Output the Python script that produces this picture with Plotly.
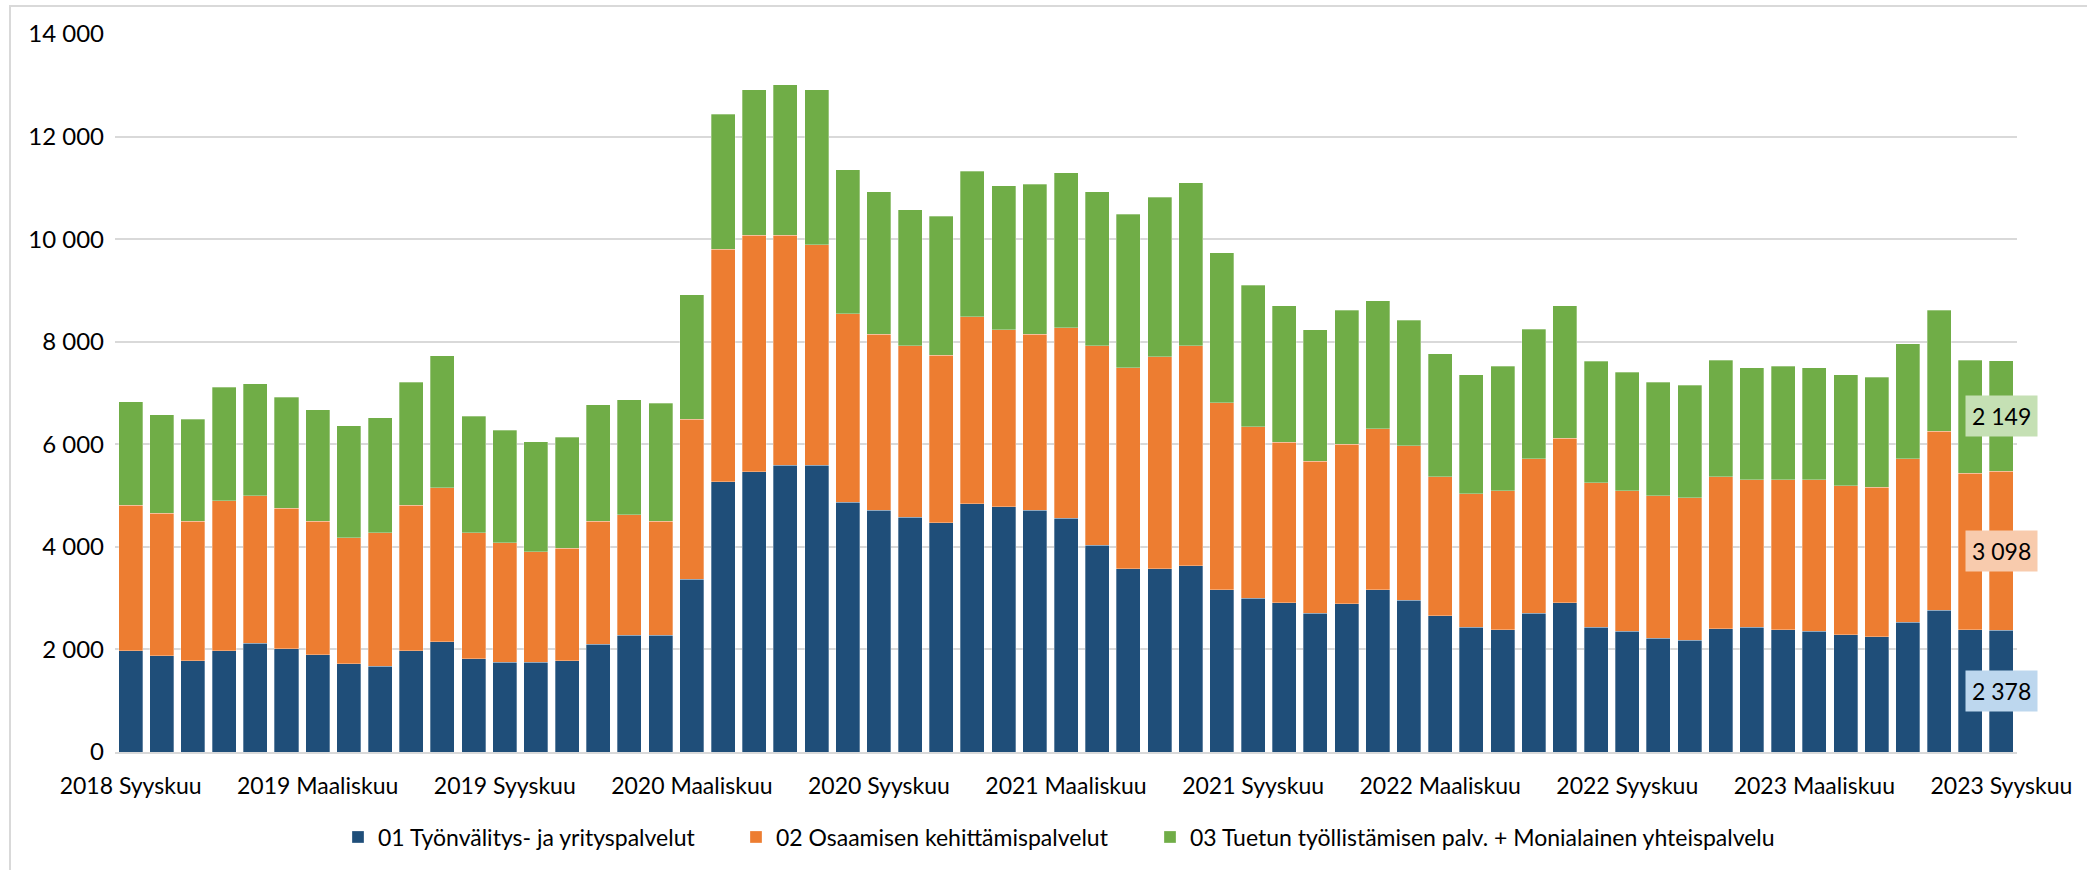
import plotly.graph_objects as go

# ---- data ----
month_names = ["Tammikuu", "Helmikuu", "Maaliskuu", "Huhtikuu", "Toukokuu", "Kesäkuu",
               "Heinäkuu", "Elokuu", "Syyskuu", "Lokakuu", "Marraskuu", "Joulukuu"]
categories = []
for year in range(2018, 2024):
    for m, name in enumerate(month_names, start=1):
        if (year == 2018 and m < 9) or (year == 2023 and m > 9):
            continue
        categories.append(f"{year} {name}")

tick_labels = ["2018 Syyskuu", "2019 Maaliskuu", "2019 Syyskuu", "2020 Maaliskuu",
               "2020 Syyskuu", "2021 Maaliskuu", "2021 Syyskuu", "2022 Maaliskuu",
               "2022 Syyskuu", "2023 Maaliskuu", "2023 Syyskuu"]

series_names = ["01 Työnvälitys- ja yrityspalvelut",
                "02 Osaamisen kehittämispalvelut",
                "03 Tuetun työllistämisen palv. + Monialainen yhteispalvelu"]

tyonvalitys = [1970, 1880, 1780, 1970, 2120, 2010, 1900, 1720, 1670, 1970,
               2150, 1820, 1750, 1750, 1780, 2100, 2280, 2280, 3370, 5270,
               5460, 5590, 5590, 4870, 4710, 4580, 4470, 4840, 4780, 4710,
               4560, 4030, 3570, 3570, 3630, 3160, 3000, 2910, 2710, 2890,
               3160, 2960, 2660, 2430, 2380, 2710, 2910, 2430, 2350, 2220,
               2180, 2400, 2430, 2380, 2350, 2290, 2250, 2530, 2760, 2380,
               2378]

osaaminen = [2840, 2780, 2720, 2930, 2880, 2740, 2600, 2460, 2610, 2840,
             3000, 2460, 2330, 2150, 2190, 2400, 2350, 2220, 3120, 4530,
             4620, 4490, 4300, 3680, 3440, 3340, 3270, 3650, 3450, 3440,
             3710, 3890, 3920, 4140, 4290, 3650, 3340, 3130, 2960, 3110,
             3140, 3010, 2710, 2610, 2710, 3010, 3210, 2820, 2740, 2780,
             2780, 2970, 2880, 2930, 2960, 2900, 2910, 3190, 3490, 3060,
             3098]

tuettu = [2020, 1920, 1990, 2210, 2180, 2170, 2170, 2180, 2240, 2400,
          2580, 2270, 2190, 2150, 2170, 2270, 2240, 2300, 2430, 2640,
          2830, 2930, 3020, 2800, 2770, 2650, 2710, 2830, 2810, 2920,
          3020, 3000, 3000, 3110, 3180, 2920, 2760, 2660, 2560, 2610,
          2500, 2450, 2400, 2320, 2430, 2520, 2580, 2370, 2310, 2210,
          2190, 2270, 2180, 2210, 2180, 2170, 2150, 2240, 2360, 2200,
          2149]

colors = ["#1F4E79", "#ED7D31", "#70AD47"]
label_bg = ["#BDD7EE", "#F8CBAD", "#C5E0B4"]
legend_ids = ["legend", "legend2", "legend3"]
legend_x_px = [338, 736, 1150]

W, H = 2087, 870
PLOT_L, PLOT_W, PLOT_B, PLOT_H = 115, 1902, 752, 718
FONT = "Lato"

# ---- figure ----
fig = go.Figure()
for name, vals, col, lg in zip(series_names, [tyonvalitys, osaaminen, tuettu], colors, legend_ids):
    fig.add_trace(go.Bar(
        x=categories, y=vals, name=name, legend=lg,
        marker=dict(color=col, line=dict(color="rgba(255,255,255,0.5)", width=0.6)),
    ))

def fmt(v):
    return f"{v:,}".replace(",", " ")

# labels on the last bar
base = 0
for vals, bg in zip([tyonvalitys, osaaminen, tuettu], label_bg):
    v = vals[-1]
    fig.add_annotation(
        x=categories[-1], y=base + v / 2, xref="x", yref="y",
        text=fmt(v), showarrow=False, bgcolor=bg, borderpad=6,
        font=dict(family=FONT, size=23, color="#000000"),
    )
    base += v

# outer border of the chart
fig.add_shape(type="rect", xref="paper", yref="paper",
              x0=(10 - PLOT_L) / PLOT_W, x1=(2100 - PLOT_L) / PLOT_W,
              y0=(PLOT_B - 885) / PLOT_H, y1=(PLOT_B - 6) / PLOT_H,
              line=dict(color="#D9D9D9", width=2), fillcolor="rgba(0,0,0,0)", layer="below")

legend_common = dict(orientation="h", xanchor="left", yanchor="middle",
                     y=(PLOT_B - 837) / PLOT_H, bgcolor="rgba(0,0,0,0)",
                     font=dict(family=FONT, size=23, color="#000000"),
                     itemclick=False, itemdoubleclick=False)
legends = {lg: dict(legend_common, x=(px - PLOT_L) / PLOT_W)
           for lg, px in zip(legend_ids, legend_x_px)}

fig.update_layout(
    width=W, height=H,
    margin=dict(l=PLOT_L, r=W - PLOT_L - PLOT_W, t=PLOT_B - PLOT_H, b=H - PLOT_B),
    barmode="stack", bargap=0.23,
    paper_bgcolor="white", plot_bgcolor="white",
    separators=", ",
    font=dict(family=FONT, size=23, color="#000000"),
    showlegend=True,
    xaxis=dict(type="category", tickmode="array", tickvals=tick_labels, ticktext=tick_labels,
               showgrid=False, showline=True, linecolor="#D9D9D9", linewidth=2,
               ticks="", tickangle=0, range=[-0.5, len(categories) - 0.5],
               ticklabelstandoff=12,
               tickfont=dict(family=FONT, size=23, color="#000000")),
    yaxis=dict(range=[0, 14000], tickvals=[0, 2000, 4000, 6000, 8000, 10000, 12000, 14000],
               tickformat=",d", showgrid=True, gridcolor="#D9D9D9", gridwidth=2,
               zeroline=False, showline=False, ticks="", ticklabelstandoff=10,
               tickfont=dict(family=FONT, size=24, color="#000000")),
    **legends,
)

fig.write_html("out.html", config={"displayModeBar": False},
               post_script="document.body.style.margin='0';document.body.style.overflow='hidden';")
